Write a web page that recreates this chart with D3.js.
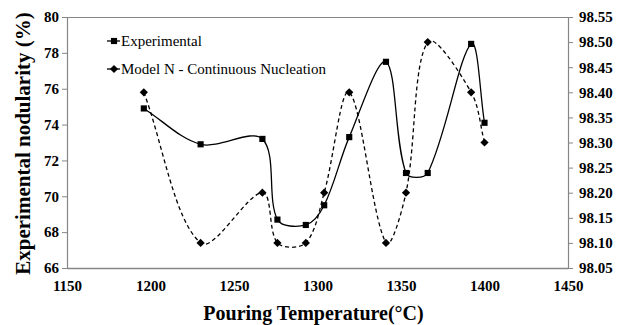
<!DOCTYPE html>
<html>
<head>
<meta charset="utf-8">
<script src="https://cdn.jsdelivr.net/npm/d3@7"></script>
<style>
  html, body { margin: 0; padding: 0; background: #fff; }
  svg { display: block; }
</style>
</head>
<body>
<svg id="chart" width="618" height="325"></svg>
<script>
// Pouring temperature (°C) of each cast
const temperatures = [1196, 1230, 1267, 1276, 1293, 1304, 1319, 1341, 1353, 1366, 1392, 1400];
// Measured nodularity (%) – left axis
const experimental = [74.9, 72.9, 73.2, 68.7, 68.4, 69.5, 73.3, 77.5, 71.3, 71.3, 78.5, 74.1];
// Model N (continuous nucleation) – right axis
const modelN = [98.40, 98.10, 98.20, 98.10, 98.10, 98.20, 98.40, 98.10, 98.20, 98.50, 98.40, 98.30];

const xTicks = [1150, 1200, 1250, 1300, 1350, 1400, 1450];
const yLeftTicks = [66, 68, 70, 72, 74, 76, 78, 80];
const yRightTicks = [98.05, 98.10, 98.15, 98.20, 98.25, 98.30, 98.35, 98.40, 98.45, 98.50, 98.55];

const seriesNames = ["Experimental", "Model N - Continuous Nucleation"];

const serif = "'Liberation Serif', 'Times New Roman', 'DejaVu Serif', serif";
const svg = d3.select("#chart");
const plot = { left: 67, right: 568, top: 17, bottom: 268 };
const axisColor = "#868686";

const x = d3.scaleLinear().domain([1150, 1450]).range([plot.left, plot.right]);
const yL = d3.scaleLinear().domain([66, 80]).range([plot.bottom, plot.top]);
const yR = d3.scaleLinear().domain([98.05, 98.55]).range([plot.bottom, plot.top]);

function styleTicks(g) {
  g.selectAll("text")
    .style("font-family", serif)
    .style("font-size", "15px")
    .style("font-weight", "bold")
    .attr("fill", "#000");
}

// Smoothed line through the points: cubic Béziers whose tangents are
// weighted by the neighbouring segment lengths (spreadsheet-style smoothing).
function smoothPath(pts, t = 1 / 3) {
  const p = d3.path();
  const n = pts.length;
  const dist = (a, b) => Math.hypot(b[0] - a[0], b[1] - a[1]);
  p.moveTo(pts[0][0], pts[0][1]);
  for (let i = 0; i < n - 1; i++) {
    const p0 = pts[Math.max(i - 1, 0)], p1 = pts[i], p2 = pts[i + 1], p3 = pts[Math.min(i + 2, n - 1)];
    const d01 = dist(p0, p1), d12 = dist(p1, p2), d23 = dist(p2, p3);
    const f1 = d12 / (d01 + d12 || 1) * t;
    const f2 = d12 / (d12 + d23 || 1) * t;
    const c1 = [p1[0] + (p2[0] - p0[0]) * f1, p1[1] + (p2[1] - p0[1]) * f1];
    const c2 = [p2[0] - (p3[0] - p1[0]) * f2, p2[1] - (p3[1] - p1[1]) * f2];
    p.bezierCurveTo(c1[0], c1[1], c2[0], c2[1], p2[0], p2[1]);
  }
  return p.toString();
}

// frame: top edge
svg.append("line")
  .attr("x1", plot.left).attr("x2", plot.right)
  .attr("y1", plot.top + 0.5).attr("y2", plot.top + 0.5)
  .attr("stroke", axisColor).attr("stroke-width", 1);

// bottom axis (labels only, no tick marks)
const gx = svg.append("g").attr("transform", `translate(0,${plot.bottom})`)
  .call(d3.axisBottom(x).tickValues(xTicks).tickFormat(d3.format("d")).tickSize(0).tickPadding(12));
gx.select(".domain").attr("stroke", axisColor).attr("stroke-width", 1.5);
styleTicks(gx);

// left axis
const gl = svg.append("g").attr("transform", `translate(${plot.left},0)`)
  .call(d3.axisLeft(yL).tickValues(yLeftTicks).tickFormat(d3.format("d")).tickSizeOuter(0).tickSize(5).tickPadding(3));
gl.select(".domain").attr("stroke", axisColor).attr("stroke-width", 1.2);
gl.selectAll(".tick line").attr("stroke", axisColor);
styleTicks(gl);

// right axis
const gr = svg.append("g").attr("transform", `translate(${plot.right},0)`)
  .call(d3.axisRight(yR).tickValues(yRightTicks).tickFormat(d3.format(".2f")).tickSizeOuter(0).tickSize(5).tickPadding(6));
gr.select(".domain").attr("stroke", axisColor).attr("stroke-width", 1.2);
gr.selectAll(".tick line").attr("stroke", axisColor);
styleTicks(gr);

// axis titles
svg.append("text")
  .attr("x", (plot.left + plot.right) / 2 - 4).attr("y", 320)
  .attr("text-anchor", "middle")
  .style("font-family", serif).style("font-size", "20px").style("font-weight", "bold")
  .text("Pouring Temperature(°C)");
svg.append("text")
  .attr("transform", `translate(30,${(plot.top + plot.bottom) / 2 + 1}) rotate(-90)`)
  .attr("text-anchor", "middle")
  .style("font-family", serif).style("font-size", "21px").style("font-weight", "bold")
  .text("Experimental nodularity (%)");

// series lines
const expPts = temperatures.map((t, i) => [x(t), yL(experimental[i])]);
const modPts = temperatures.map((t, i) => [x(t), yR(modelN[i])]);

svg.append("path")
  .attr("d", smoothPath(modPts))
  .attr("fill", "none").attr("stroke", "#000").attr("stroke-width", 1.3)
  .attr("stroke-dasharray", "4,3");
svg.append("path")
  .attr("d", smoothPath(expPts))
  .attr("fill", "none").attr("stroke", "#000").attr("stroke-width", 1.3);

// markers
const square = d3.symbol().type(d3.symbolSquare).size(38);
const diamond = d3.symbol().type(d3.symbolSquare).size(34);

svg.append("g").selectAll("path").data(modPts).join("path")
  .attr("d", diamond)
  .attr("transform", d => `translate(${d[0]},${d[1]}) rotate(45)`)
  .attr("fill", "#000");
svg.append("g").selectAll("path").data(expPts).join("path")
  .attr("d", square)
  .attr("transform", d => `translate(${d[0]},${d[1]})`)
  .attr("fill", "#000");

// legend
const legend = svg.append("g");
seriesNames.forEach((name, i) => {
  const ly = 41 + i * 28;
  legend.append("line")
    .attr("x1", 107).attr("x2", 120).attr("y1", ly).attr("y2", ly)
    .attr("stroke", "#000").attr("stroke-width", 1.3);
  legend.append("path")
    .attr("d", i === 0 ? square : diamond)
    .attr("transform", i === 0 ? `translate(114,${ly})` : `translate(114,${ly}) rotate(45)`)
    .attr("fill", "#000");
  legend.append("text")
    .attr("x", 121).attr("y", ly).attr("dy", "0.35em")
    .style("font-family", serif).style("font-size", "15px")
    .text(name);
});
</script>
</body>
</html>
